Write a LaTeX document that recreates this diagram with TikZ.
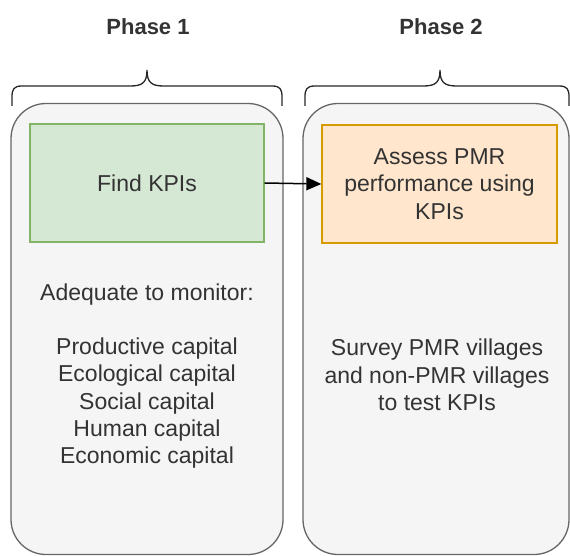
\documentclass[tikz,border=0pt]{standalone}
\usepackage{fontspec}
\setmainfont{Liberation Sans}
\usetikzlibrary{arrows.meta}
\definecolor{txt}{HTML}{333333}
\definecolor{contfill}{HTML}{F5F5F5}
\definecolor{contdraw}{HTML}{666666}
\definecolor{gfill}{HTML}{D5E8D4}
\definecolor{gdraw}{HTML}{82B366}
\definecolor{ofill}{HTML}{FFE6CC}
\definecolor{odraw}{HTML}{D79B00}
\tikzset{
  container/.style={draw=contdraw, fill=contfill, line width=1.3pt, rounded corners=35pt, inner sep=0pt},
  stepbox/.style={line width=1.3pt, inner sep=0pt, align=center, text=txt,
    font=\fontsize{23}{27.3}\selectfont},
  plain/.style={align=center, text=txt, inner sep=0pt, font=\fontsize{23}{27.3}\selectfont},
  phase/.style={text=txt, inner sep=0pt, font=\fontsize{22}{26}\selectfont\bfseries},
  brace/.style={draw=black!85, line width=1.3pt},
  conn/.style={line width=1.5pt, -{Triangle[length=15pt,width=13pt]}}
}
\begin{document}
\begin{tikzpicture}[x=1pt,y=-1pt]
\useasboundingbox (0,0) rectangle (570,556);
% containers
\node[container, minimum width=272pt, minimum height=451pt] (c1) at (147,329) {};
\node[container, minimum width=266pt, minimum height=451pt] (c2) at (436,329) {};
% headings
\node[phase] (p1) at (148,27) {Phase 1};
\node[phase] (p2) at (441,27) {Phase 2};
% braces
\path[brace] (12,106) -- (12,97) .. controls (12,89) and (14,86) .. (22,86) -- (130,86)
  .. controls (142,86) and (147,83) .. (147,70)
  .. controls (147,83) and (152,86) .. (164,86) -- (272,86)
  .. controls (280,86) and (282,89) .. (282,97) -- (282,106);
\path[brace] (305,106) -- (305,97) .. controls (305,89) and (307,86) .. (315,86) -- (423,86)
  .. controls (435,86) and (440,83) .. (440,70)
  .. controls (440,83) and (445,86) .. (457,86) -- (559,86)
  .. controls (567,86) and (569,89) .. (569,97) -- (569,106);
% step boxes
\node[stepbox, draw=gdraw, fill=gfill, minimum width=234pt, minimum height=118pt] (find) at (147,183) {Find KPIs};
\node[stepbox, draw=odraw, fill=ofill, minimum width=235pt, minimum height=118pt] (assess) at (439.5,184) {Assess PMR\\performance using\\KPIs};
% connector
\draw[conn] (find.east) -- (assess.west);
% texts
\node[plain] (t1) at (147,376) {Adequate to monitor:\\[27.3pt]Productive capital\\Ecological capital\\Social capital\\Human capital\\Economic capital};
\node[plain] (t2) at (437,375) {Survey PMR villages\\and non-PMR villages\\to test KPIs};
\end{tikzpicture}
\end{document}
